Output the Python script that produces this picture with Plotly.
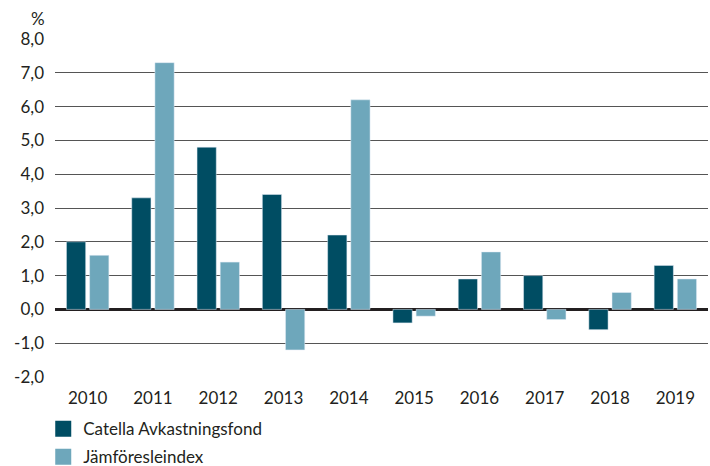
import plotly.graph_objects as go

years = ["2010", "2011", "2012", "2013", "2014", "2015", "2016", "2017", "2018", "2019"]
fund = [2.0, 3.3, 4.8, 3.4, 2.2, -0.4, 0.9, 1.0, -0.6, 1.3]
index = [1.6, 7.3, 1.4, -1.2, 6.2, -0.2, 1.7, -0.3, 0.5, 0.9]
names = ["Catella Avkastningsfond", "Jämföresleindex"]
colors = ["#004d63", "#6ea7bb"]
y_ticks = [-2, -1, 0, 1, 2, 3, 4, 5, 6, 7, 8]
y_tick_labels = ["-2,0", "-1,0", "0,0", "1,0", "2,0", "3,0", "4,0", "5,0", "6,0", "7,0", "8,0"]

FONT = "Lato, 'Open Sans', sans-serif"
TXT = "#231f20"

fig = go.Figure()
fig.add_trace(go.Bar(x=years, y=fund, marker_color=colors[0], showlegend=False))
fig.add_trace(go.Bar(x=years, y=index, marker_color=colors[1], showlegend=False))
for i, (n, c) in enumerate(zip(names, colors)):
    fig.add_trace(go.Scatter(x=[None], y=[None], mode="markers", name=n,
                             marker=dict(symbol="square", size=16, color=c),
                             legendgroup=f"g{i}", showlegend=True))

fig.update_layout(
    width=710, height=466,
    margin=dict(l=55, r=2, t=39, b=89, autoexpand=False),
    paper_bgcolor="white", plot_bgcolor="white",
    barmode="group", bargap=0.29, bargroupgap=0.17,
    font=dict(family=FONT, size=17, color=TXT),
    legend=dict(x=-0.018, y=-0.101, xanchor="left", yanchor="top",
                orientation="v", tracegroupgap=3, itemsizing="trace",
                font=dict(family=FONT, size=17, color=TXT), bgcolor="rgba(0,0,0,0)"),
    annotations=[dict(text="%", xref="paper", yref="paper", x=-0.026, y=1.023,
                      xanchor="center", yanchor="bottom", showarrow=False,
                      font=dict(family=FONT, size=17, color=TXT))],
)
fig.update_xaxes(showgrid=False, showline=False, ticks="", ticklabelstandoff=9,
                 automargin=False, tickfont=dict(family=FONT, size=17, color=TXT))
fig.update_yaxes(range=[-2, 8], tickvals=y_ticks, ticktext=y_tick_labels,
                 showgrid=True, gridcolor="#555555", gridwidth=1,
                 zeroline=True, zerolinecolor="#231f20", zerolinewidth=3,
                 showline=False, ticks="", ticklabelstandoff=10, automargin=False,
                 tickfont=dict(family=FONT, size=17, color=TXT))

fig.write_html("out.html", config={"displayModeBar": False},
               post_script="document.body.style.margin='0';")
